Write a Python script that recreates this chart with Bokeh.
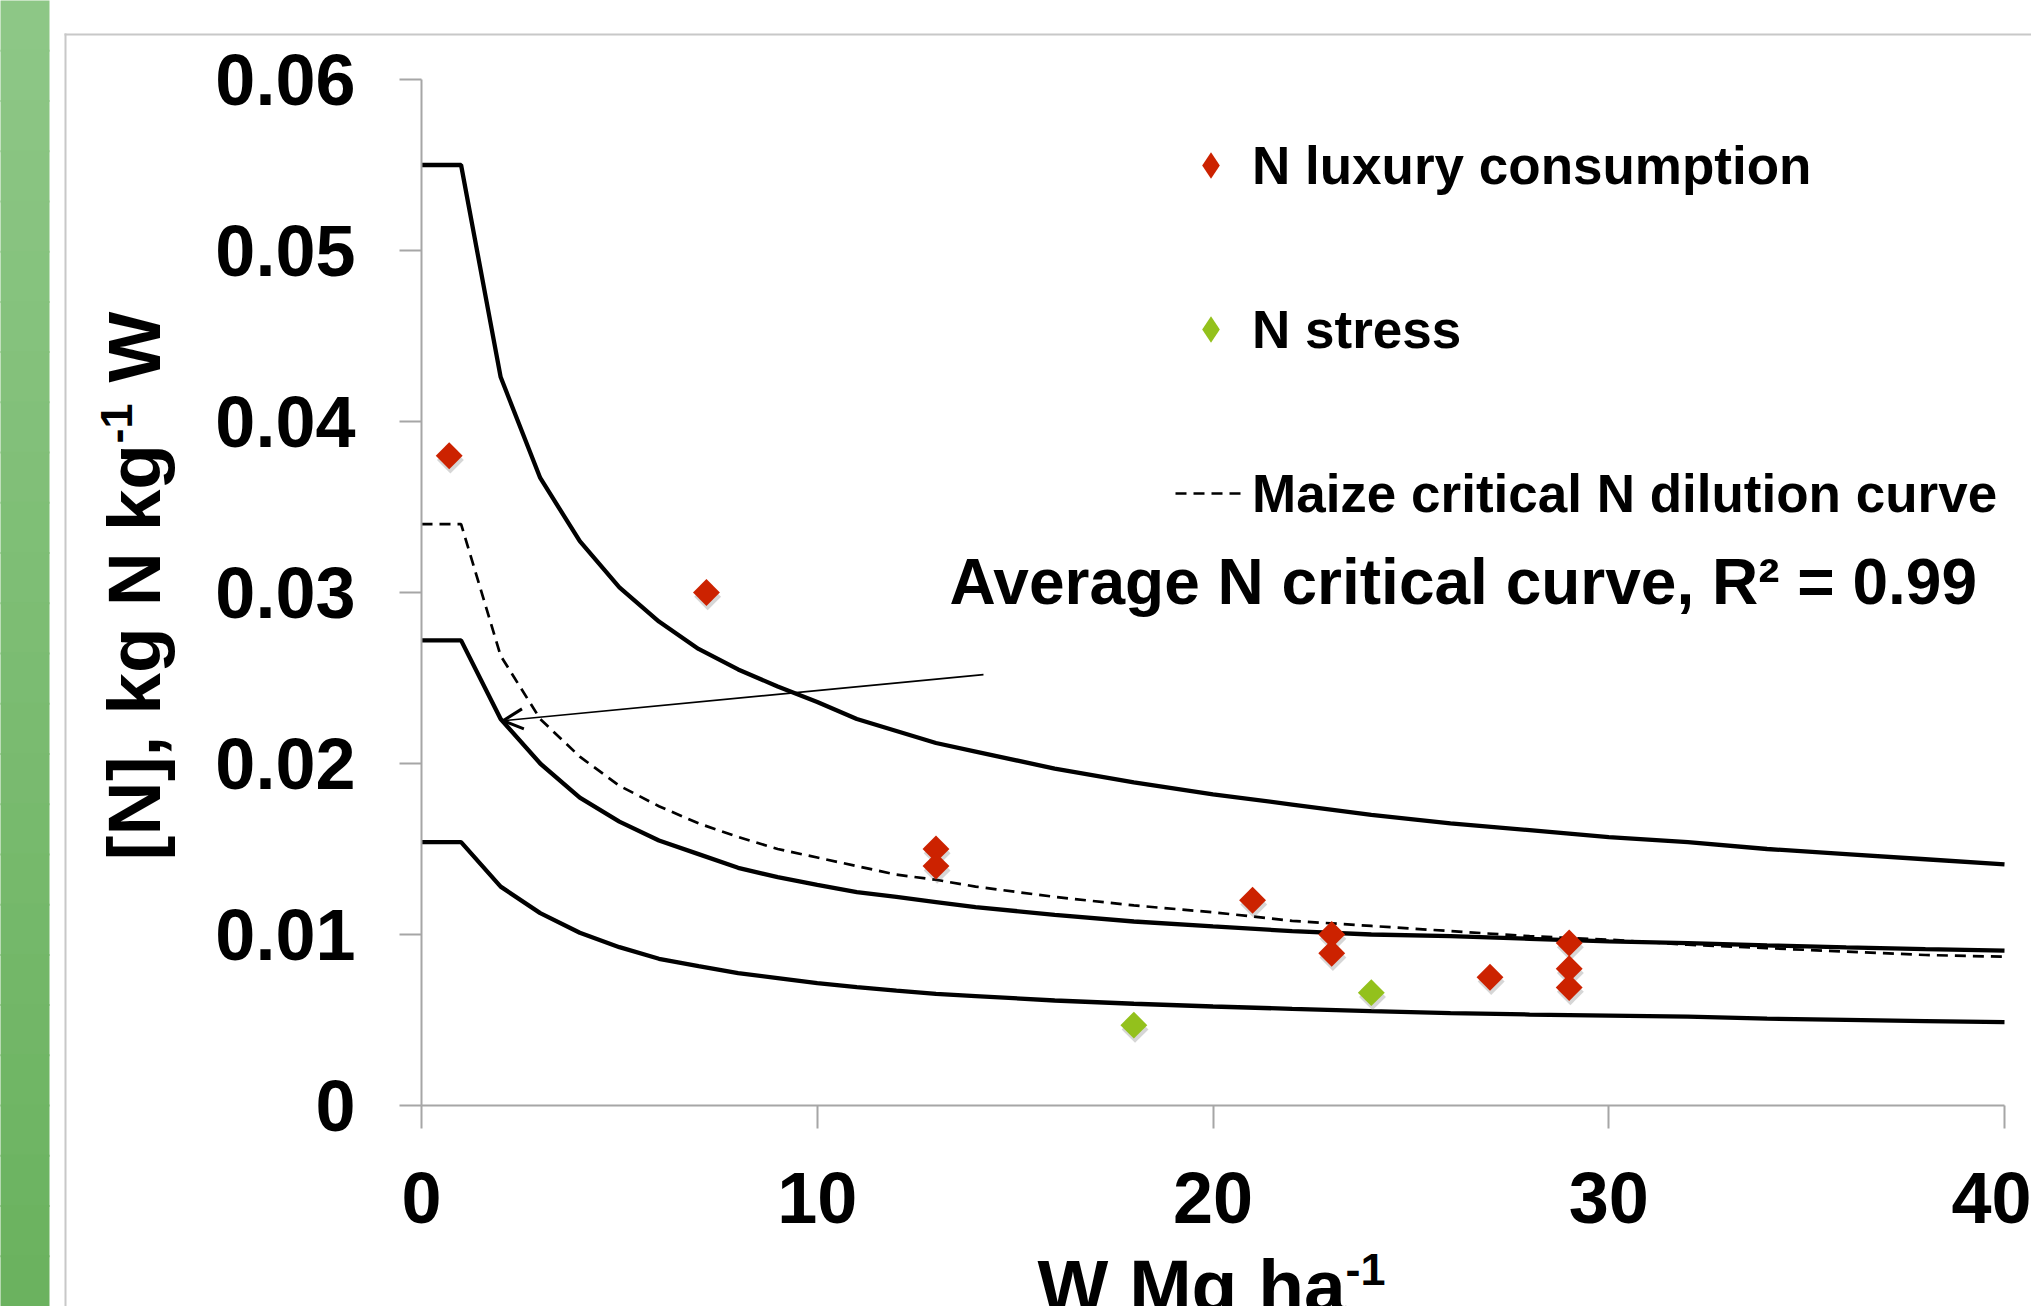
import math
from bokeh.plotting import figure
from bokeh.models import (Range1d, FixedTicker, Label, Legend, LegendItem, Arrow,
                          OpenHead, BoxAnnotation, ColumnDataSource)
from bokeh.transform import dodge
from bokeh.embed import file_html
from bokeh.resources import INLINE

# ---------------- data ----------------
curve_w = [0, 1, 2, 3, 4, 5, 6, 7, 8, 9, 10, 11, 12, 13, 14,
           16, 18, 20, 22, 24, 26, 28, 30, 32, 34, 36, 38, 40]
upper_n = [0.0550, 0.0550, 0.0426, 0.0367, 0.0330, 0.0303, 0.0283, 0.0267, 0.0255, 0.0245,
           0.0236, 0.0226, 0.0219, 0.0212, 0.0207,
           0.0197, 0.0189, 0.0182, 0.0176, 0.0170, 0.0165, 0.0161, 0.0157, 0.0154, 0.0150,
           0.0147, 0.0144, 0.0141]
average_n = [0.0272, 0.0272, 0.0226, 0.0200, 0.0180, 0.0166, 0.0155, 0.0147, 0.0139, 0.01335,
             0.0129, 0.01248, 0.0122, 0.0119, 0.0116,
             0.01115, 0.01076, 0.01047, 0.0102, 0.0100, 0.0099, 0.00975, 0.0096, 0.0095,
             0.00936, 0.00925, 0.00915, 0.00906]
lower_n = [0.0154, 0.0154, 0.0128, 0.01125, 0.0101, 0.00926, 0.00858, 0.00815, 0.00774, 0.00745,
           0.00715, 0.00692, 0.00672, 0.00653, 0.0064,
           0.00614, 0.00595, 0.00579, 0.00565, 0.00552, 0.0054, 0.00532, 0.00526, 0.0052,
           0.00508, 0.00501, 0.00494, 0.00487]
maize_n = [0.0340, 0.0340, 0.0263, 0.0226, 0.0204, 0.0187, 0.0175, 0.0165, 0.0157, 0.0150,
           0.0145, 0.0140, 0.0135, 0.0132, 0.0128,
           0.0122, 0.0117, 0.0113, 0.0108, 0.0105, 0.0102, 0.0099, 0.0097, 0.0094, 0.0092,
           0.0090, 0.0088, 0.0087]

lux_w = [0.7, 7.2, 13, 13, 21, 23, 23, 27, 29, 29, 29]
lux_n = [0.0380, 0.0300, 0.0150, 0.0140, 0.0120, 0.0100, 0.0089, 0.0075, 0.0095, 0.0080, 0.0069]
stress_w = [18, 24]
stress_n = [0.0047, 0.0066]

x_ticks = [0, 10, 20, 30, 40]
x_tick_labels = ["0", "10", "20", "30", "40"]
y_ticks = [0, 0.01, 0.02, 0.03, 0.04, 0.05, 0.06]
y_tick_labels = ["0", "0.01", "0.02", "0.03", "0.04", "0.05", "0.06"]

legend_labels = ["N luxury consumption", "N stress", "Maize critical N dilution curve"]
fit_text = "Average N critical curve, R\u00b2 = 0.99"
x_label_main, x_label_sup = "W Mg ha", "-1"
y_label_main, y_label_sup, y_label_end = "[N], kg N kg", "-1", "W"
arrow_start = (14.2, 0.0252)
arrow_end = (2.06, 0.0225)

RED = "#cc2200"
GREEN = "#93c11c"
AXIS_GRAY = "#a6a6a6"
FONT = "Liberation Sans"

# ---------------- layout (canvas pixels) ----------------
W, H = 2031, 1306
X_MIN, X_MAX, Y_MIN, Y_MAX = 0, 40, 0, 0.06
PX_X0, PX_X1 = 421, 2004      # pixel columns of w = 0 and w = 40
PX_Y0, PX_Y1 = 1105, 79       # pixel rows of [N] = 0 and [N] = 0.06
SX = (PX_X1 - PX_X0) / (X_MAX - X_MIN)
SY = (PX_Y0 - PX_Y1) / (Y_MAX - Y_MIN)


def dx(px):
    return X_MIN + (px - PX_X0) / SX


def dy(py):
    return Y_MIN + (PX_Y0 - py) / SY


p = figure(width=W, height=H, output_backend="svg", toolbar_location=None,
           x_range=Range1d(dx(0), dx(W)), y_range=Range1d(dy(H), dy(0)),
           min_border_left=0, min_border_right=0, min_border_top=0, min_border_bottom=0)
p.outline_line_color = None
p.grid.visible = False
p.background_fill_color = "white"
p.border_fill_color = "white"

for ax, ticks, labels, tout, stand, loc, bnds in (
        (p.xaxis[0], x_ticks, x_tick_labels, 23, 44, Y_MIN, (X_MIN, X_MAX)),
        (p.yaxis[0], y_ticks, y_tick_labels, 22, 44, X_MIN, (Y_MIN, Y_MAX))):
    ax.fixed_location = loc
    ax.bounds = bnds
    ax.ticker = FixedTicker(ticks=ticks)
    ax.major_label_overrides = {t: l for t, l in zip(ticks, labels)}
    ax.axis_line_color = AXIS_GRAY
    ax.axis_line_width = 2
    ax.major_tick_line_color = AXIS_GRAY
    ax.major_tick_line_width = 2
    ax.major_tick_out = tout
    ax.major_tick_in = 0
    ax.minor_tick_line_color = None
    ax.major_label_text_font = FONT
    ax.major_label_text_font_style = "bold"
    ax.major_label_text_font_size = "72px"
    ax.major_label_text_color = "black"
    ax.major_label_standoff = stand

# decorative slide elements: green bar with gradient and light frame
top_c, bot_c = (142, 199, 135), (106, 178, 94)
nb = 26
for i in range(nb):
    t = (i + 0.5) / nb
    c = tuple(int(round(top_c[k] + (bot_c[k] - top_c[k]) * t)) for k in range(3))
    p.add_layout(BoxAnnotation(left=dx(-5), right=dx(49),
                               top=dy(H * i / nb - 1), bottom=dy(H * (i + 1) / nb + 1),
                               fill_color="#%02x%02x%02x" % c, fill_alpha=1,
                               line_color=None, level="underlay"))
p.add_layout(BoxAnnotation(left=dx(64), right=dx(66), top=dy(33), bottom=dy(H + 20),
                           fill_color="#c8c8c8", fill_alpha=1, line_color=None, level="underlay"))
p.add_layout(BoxAnnotation(left=dx(64), right=dx(W + 20), top=dy(35), bottom=dy(33),
                           fill_color="#c8c8c8", fill_alpha=1, line_color=None, level="underlay"))

# curves
p.line(curve_w, upper_n, line_color="black", line_width=4.3)
p.line(curve_w, average_n, line_color="black", line_width=4.3)
p.line(curve_w, lower_n, line_color="black", line_width=4.3)
r_maize = p.line(curve_w, maize_n, line_color="black", line_width=2.7, line_dash="11 7")

# points with a soft shadow
lux_src = ColumnDataSource(dict(w=lux_w, n=lux_n))
stress_src = ColumnDataSource(dict(w=stress_w, n=stress_n))
for src in (lux_src, stress_src):
    p.scatter(x=dodge("w", 0.03, range=p.x_range), y=dodge("n", -0.00025, range=p.y_range),
              source=src, marker="square", angle=math.pi / 4, size=19,
              fill_color="#444444", fill_alpha=0.22, line_color=None)
p.scatter(x="w", y="n", source=lux_src, marker="square", angle=math.pi / 4, size=19,
          fill_color=RED, line_color=None)
p.scatter(x="w", y="n", source=stress_src, marker="square", angle=math.pi / 4, size=19,
          fill_color=GREEN, line_color=None)

# legend proxies (zero-size diamonds: only their legend symbol is seen)
proxy_lux = p.scatter(x="w", y="n", source=lux_src, marker="diamond", size=0,
                      fill_color=RED, line_color=None)
proxy_str = p.scatter(x="w", y="n", source=stress_src, marker="diamond", size=0,
                      fill_color=GREEN, line_color=None)

ITEM_H, ITEM_GAP = 66, 98
legend_top_px = 165 - ITEM_H / 2
legend_h = 3 * ITEM_H + 2 * ITEM_GAP
legend = Legend(items=[LegendItem(label=legend_labels[0], renderers=[proxy_lux]),
                       LegendItem(label=legend_labels[1], renderers=[proxy_str]),
                       LegendItem(label=legend_labels[2], renderers=[r_maize])],
                location=(1175, H - (legend_top_px + legend_h)), orientation="vertical",
                glyph_width=71, glyph_height=ITEM_H, label_height=ITEM_H, label_standoff=6,
                spacing=ITEM_GAP, padding=0, margin=0,
                border_line_color=None, background_fill_alpha=0,
                label_text_font=FONT, label_text_font_style="bold",
                label_text_font_size="53px", label_text_color="black",
                label_text_baseline="middle")
p.add_layout(legend)

# arrow
p.add_layout(Arrow(end=OpenHead(size=20, line_width=3, line_color="black"),
                   x_start=arrow_start[0], y_start=arrow_start[1],
                   x_end=arrow_end[0], y_end=arrow_end[1],
                   line_color="black", line_width=1.6))


# texts (placed by the centre line of their capitals)
def add_label(text, px, py, size, angle=0.0):
    p.add_layout(Label(x=dx(px), y=dy(py), text=text, angle=angle,
                       text_font=FONT, text_font_style="bold", text_font_size=size,
                       text_color="black", text_align="left", text_baseline="middle"))


add_label(fit_text, 949, 581, "64px")
add_label(x_label_main, 1037, 1285, "75px")
add_label(x_label_sup, 1345, 1269, "45px")
add_label(y_label_main, 133, 860, "75px", math.pi / 2)
add_label(y_label_sup, 116, 443, "45px", math.pi / 2)
add_label(y_label_end, 133, 382, "75px", math.pi / 2)

open("out.html", "w").write(file_html(p, INLINE))
